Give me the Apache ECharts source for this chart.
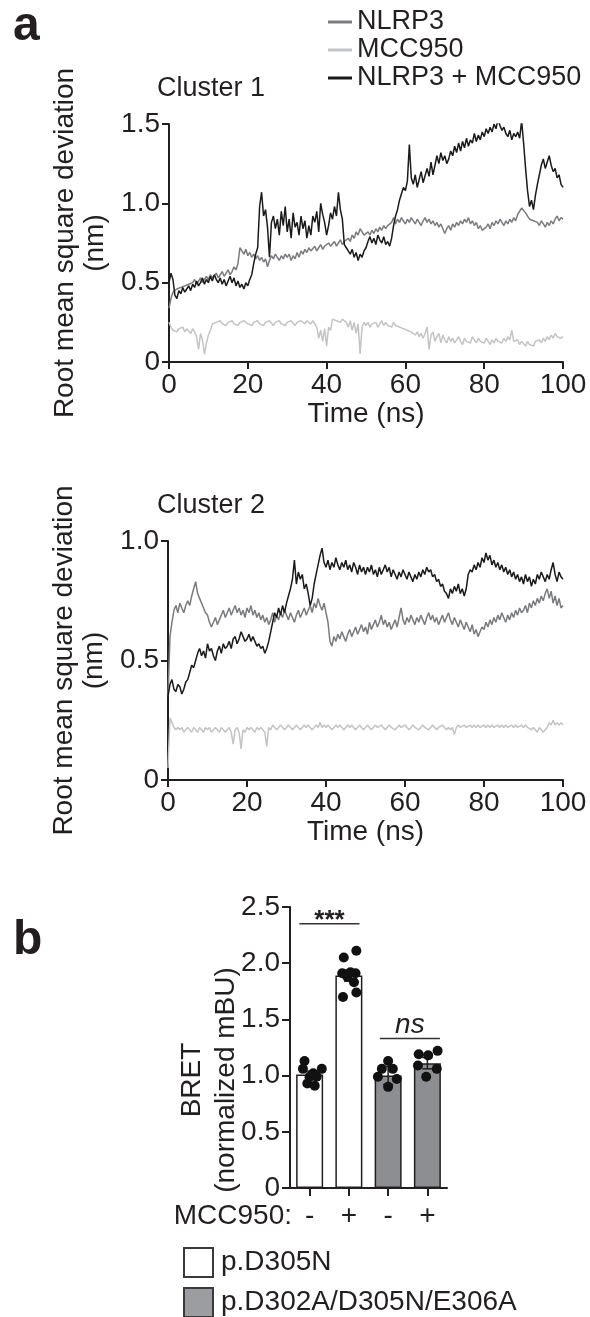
<!DOCTYPE html>
<html><head><meta charset="utf-8">
<script src="https://cdn.jsdelivr.net/npm/echarts@6/dist/echarts.min.js"></script>
<style>html,body{margin:0;padding:0;background:#fff}#c{width:590px;height:1317px}</style>
</head><body><div id="c"></div>
<script>
const FONT = '"Liberation Sans", Arial, Helvetica, sans-serif';
const INK = '#231f20';
const TIME_STEP = 0.5; // ns between samples
const rmsdNames = ['NLRP3', 'MCC950', 'NLRP3 + MCC950'];
const rmsdColors = ['#7a7b7e', '#c3c4c6', '#1a1a1a'];

// Cluster 1 (nm), one sample per 0.5 ns, 0..100 ns
const c1Nlrp3 = [
0.34,0.40,0.44,0.43,0.46,0.45,0.47,0.46,0.48,0.47,
0.49,0.48,0.50,0.52,0.49,0.51,0.53,0.50,0.52,0.54,
0.52,0.55,0.53,0.54,0.56,0.53,0.55,0.57,0.54,0.56,
0.58,0.55,0.57,0.60,0.58,0.62,0.72,0.70,0.68,0.71,
0.67,0.69,0.66,0.68,0.65,0.67,0.64,0.66,0.63,0.65,
0.60,0.64,0.67,0.65,0.68,0.66,0.64,0.67,0.65,0.68,
0.66,0.68,0.64,0.67,0.65,0.69,0.66,0.70,0.68,0.71,
0.69,0.72,0.70,0.71,0.73,0.70,0.72,0.74,0.71,0.73,
0.72,0.75,0.73,0.74,0.76,0.73,0.75,0.77,0.74,0.76,
0.75,0.78,0.76,0.80,0.78,0.82,0.80,0.84,0.82,0.80,
0.79,0.82,0.80,0.83,0.81,0.84,0.82,0.85,0.83,0.86,
0.84,0.86,0.85,0.88,0.91,0.87,0.90,0.88,0.91,0.89,
0.87,0.90,0.88,0.91,0.89,0.87,0.90,0.88,0.86,0.89,
0.91,0.88,0.90,0.87,0.89,0.86,0.88,0.85,0.87,0.84,
0.81,0.84,0.86,0.83,0.87,0.85,0.88,0.86,0.89,0.87,
0.90,0.88,0.91,0.87,0.89,0.86,0.88,0.84,0.86,0.83,
0.82,0.85,0.87,0.84,0.88,0.86,0.89,0.87,0.90,0.88,
0.86,0.89,0.87,0.90,0.88,0.91,0.89,0.93,0.95,0.97,
0.96,0.94,0.92,0.90,0.91,0.89,0.90,0.88,0.86,0.89,
0.87,0.85,0.88,0.86,0.89,0.87,0.90,0.92,0.89,0.91,
0.90];
const c1Mcc950 = [
0.25,0.22,0.20,0.21,0.19,0.21,0.20,0.22,0.19,0.21,
0.20,0.18,0.21,0.19,0.16,0.08,0.18,0.14,0.05,0.12,
0.17,0.20,0.24,0.23,0.25,0.24,0.26,0.24,0.25,0.23,
0.25,0.24,0.26,0.24,0.25,0.23,0.25,0.24,0.26,0.25,
0.24,0.25,0.23,0.25,0.24,0.26,0.24,0.25,0.23,0.25,
0.24,0.26,0.25,0.23,0.25,0.24,0.26,0.24,0.25,0.23,
0.25,0.24,0.26,0.25,0.23,0.25,0.24,0.26,0.25,0.24,
0.26,0.25,0.24,0.26,0.25,0.22,0.15,0.20,0.13,0.21,
0.10,0.22,0.20,0.27,0.28,0.26,0.27,0.25,0.27,0.26,
0.25,0.22,0.26,0.20,0.25,0.18,0.24,0.05,0.22,0.25,
0.23,0.25,0.22,0.24,0.23,0.25,0.22,0.24,0.26,0.23,
0.25,0.23,0.24,0.22,0.25,0.23,0.24,0.22,0.23,0.21,
0.22,0.20,0.21,0.19,0.20,0.17,0.19,0.16,0.18,0.15,
0.18,0.22,0.08,0.17,0.19,0.13,0.16,0.18,0.12,0.17,
0.14,0.12,0.16,0.13,0.15,0.12,0.14,0.16,0.13,0.11,
0.15,0.13,0.14,0.12,0.16,0.14,0.12,0.15,0.13,0.14,
0.12,0.15,0.13,0.11,0.14,0.12,0.15,0.13,0.14,0.12,
0.15,0.13,0.16,0.14,0.20,0.13,0.12,0.14,0.11,0.13,
0.12,0.10,0.13,0.11,0.12,0.10,0.13,0.12,0.14,0.12,
0.15,0.13,0.16,0.14,0.17,0.15,0.18,0.16,0.17,0.15,
0.16];
const c1Both = [
0.50,0.56,0.52,0.42,0.40,0.45,0.43,0.47,0.44,0.46,
0.48,0.45,0.49,0.47,0.51,0.48,0.50,0.53,0.49,0.52,
0.50,0.54,0.51,0.55,0.52,0.50,0.53,0.49,0.52,0.48,
0.51,0.54,0.50,0.53,0.48,0.51,0.47,0.49,0.46,0.50,
0.48,0.52,0.55,0.62,0.68,0.72,0.98,1.07,0.92,0.96,
0.85,0.66,0.88,0.92,0.84,0.90,0.80,0.95,0.86,0.98,
0.82,0.90,0.78,0.94,0.85,0.88,0.80,0.92,0.84,0.89,
0.78,0.86,0.80,0.92,0.88,0.95,0.82,1.00,0.93,0.88,
0.80,0.86,0.94,0.90,0.98,0.92,1.07,0.96,0.90,0.74,
0.72,0.70,0.68,0.71,0.66,0.69,0.64,0.68,0.66,0.70,
0.72,0.76,0.79,0.75,0.78,0.74,0.80,0.77,0.75,0.79,
0.74,0.76,0.73,0.78,0.86,0.92,0.96,1.02,1.06,1.10,
1.08,1.14,1.37,1.16,1.12,1.18,1.10,1.15,1.20,1.13,
1.12,1.22,1.17,1.26,1.18,1.24,1.30,1.25,1.32,1.27,
1.30,1.25,1.28,1.33,1.30,1.36,1.32,1.38,1.33,1.39,
1.35,1.41,1.36,1.40,1.38,1.44,1.39,1.43,1.40,1.45,
1.42,1.47,1.44,1.48,1.45,1.50,1.47,1.53,1.49,1.46,
1.48,1.44,1.42,1.46,1.40,1.44,1.42,1.45,1.41,1.52,
1.38,1.22,1.08,0.98,1.02,0.96,1.05,1.12,1.18,1.24,
1.28,1.22,1.26,1.30,1.24,1.20,1.22,1.16,1.18,1.12,
1.10];

// Cluster 2 (nm), one sample per 0.5 ns, 0..100 ns
const c2Nlrp3 = [
0.35,0.60,0.66,0.71,0.73,0.70,0.74,0.72,0.70,0.73,
0.75,0.73,0.77,0.80,0.83,0.78,0.76,0.74,0.72,0.70,
0.69,0.66,0.64,0.66,0.68,0.65,0.67,0.69,0.71,0.68,
0.70,0.72,0.69,0.71,0.73,0.70,0.72,0.69,0.71,0.68,
0.72,0.70,0.73,0.69,0.71,0.68,0.70,0.67,0.69,0.66,
0.68,0.65,0.67,0.70,0.66,0.69,0.67,0.70,0.68,0.71,
0.69,0.67,0.70,0.68,0.66,0.69,0.71,0.68,0.70,0.72,
0.69,0.71,0.73,0.70,0.74,0.72,0.76,0.73,0.71,0.74,
0.70,0.66,0.58,0.56,0.60,0.58,0.61,0.59,0.62,0.60,
0.58,0.61,0.63,0.60,0.62,0.64,0.61,0.63,0.65,0.62,
0.64,0.61,0.66,0.63,0.65,0.67,0.64,0.66,0.69,0.65,
0.67,0.64,0.66,0.63,0.65,0.67,0.64,0.68,0.72,0.67,
0.65,0.68,0.66,0.69,0.67,0.65,0.68,0.66,0.69,0.67,
0.65,0.68,0.70,0.67,0.69,0.66,0.68,0.65,0.67,0.69,
0.66,0.68,0.70,0.67,0.65,0.68,0.66,0.64,0.67,0.65,
0.63,0.66,0.64,0.62,0.65,0.61,0.63,0.60,0.62,0.64,
0.63,0.66,0.64,0.67,0.65,0.68,0.66,0.69,0.67,0.70,
0.68,0.66,0.69,0.67,0.70,0.68,0.71,0.69,0.72,0.70,
0.71,0.73,0.70,0.74,0.72,0.75,0.73,0.76,0.74,0.77,
0.75,0.78,0.80,0.76,0.79,0.74,0.77,0.73,0.76,0.72,
0.73];
const c2Mcc950 = [
0.05,0.26,0.24,0.22,0.21,0.22,0.21,0.22,0.20,0.21,
0.22,0.21,0.20,0.22,0.21,0.20,0.22,0.21,0.20,0.22,
0.21,0.22,0.20,0.21,0.22,0.21,0.20,0.22,0.21,0.20,
0.21,0.22,0.20,0.15,0.21,0.22,0.20,0.13,0.21,0.20,
0.22,0.21,0.22,0.21,0.20,0.22,0.21,0.22,0.21,0.20,
0.14,0.22,0.21,0.23,0.22,0.21,0.22,0.23,0.22,0.21,
0.22,0.23,0.22,0.21,0.22,0.23,0.22,0.21,0.22,0.23,
0.22,0.23,0.22,0.21,0.22,0.23,0.22,0.24,0.22,0.23,
0.22,0.23,0.22,0.21,0.22,0.23,0.22,0.23,0.22,0.21,
0.22,0.23,0.22,0.23,0.22,0.21,0.22,0.23,0.22,0.21,
0.22,0.23,0.22,0.21,0.22,0.23,0.22,0.22,0.23,0.22,
0.21,0.22,0.23,0.22,0.22,0.21,0.22,0.23,0.22,0.22,
0.23,0.22,0.21,0.22,0.23,0.22,0.22,0.21,0.22,0.23,
0.22,0.22,0.21,0.22,0.23,0.22,0.21,0.22,0.22,0.23,
0.22,0.21,0.22,0.21,0.22,0.19,0.22,0.23,0.22,0.22,
0.23,0.22,0.22,0.23,0.22,0.23,0.22,0.23,0.22,0.22,
0.23,0.22,0.23,0.22,0.23,0.22,0.22,0.23,0.22,0.23,
0.22,0.23,0.22,0.22,0.23,0.22,0.23,0.22,0.22,0.23,
0.22,0.23,0.22,0.22,0.21,0.22,0.21,0.20,0.22,0.21,
0.20,0.21,0.22,0.24,0.23,0.25,0.23,0.24,0.23,0.24,
0.23];
const c2Both = [
0.35,0.40,0.42,0.38,0.37,0.40,0.39,0.36,0.38,0.41,
0.42,0.45,0.48,0.47,0.50,0.53,0.55,0.52,0.54,0.51,
0.57,0.54,0.55,0.52,0.50,0.54,0.56,0.53,0.57,0.55,
0.56,0.58,0.55,0.59,0.60,0.57,0.59,0.62,0.60,0.58,
0.59,0.61,0.58,0.60,0.58,0.56,0.57,0.55,0.56,0.53,
0.55,0.58,0.62,0.66,0.70,0.68,0.72,0.69,0.73,0.70,
0.74,0.77,0.80,0.84,0.92,0.82,0.87,0.84,0.86,0.80,
0.82,0.78,0.73,0.76,0.82,0.86,0.90,0.94,0.97,0.91,
0.89,0.92,0.88,0.91,0.89,0.93,0.90,0.88,0.91,0.89,
0.92,0.88,0.90,0.87,0.91,0.89,0.86,0.90,0.87,0.89,
0.86,0.89,0.87,0.90,0.86,0.88,0.85,0.89,0.86,0.88,
0.90,0.87,0.89,0.85,0.88,0.86,0.84,0.87,0.85,0.88,
0.86,0.84,0.87,0.85,0.83,0.86,0.84,0.87,0.85,0.88,
0.86,0.89,0.87,0.88,0.85,0.86,0.83,0.84,0.81,0.82,
0.79,0.78,0.76,0.80,0.78,0.81,0.79,0.82,0.78,0.80,
0.77,0.80,0.86,0.88,0.87,0.90,0.88,0.91,0.89,0.93,
0.91,0.95,0.92,0.94,0.90,0.92,0.89,0.91,0.88,0.90,
0.87,0.89,0.86,0.88,0.85,0.87,0.84,0.86,0.83,0.85,
0.82,0.86,0.83,0.85,0.81,0.84,0.82,0.86,0.84,0.87,
0.85,0.83,0.86,0.84,0.88,0.91,0.86,0.83,0.87,0.85,
0.84];

// Panel b: BRET
const bretCategories = ['-', '+', '-', '+'];
const bretGroups = ['p.D305N', 'p.D302A/D305N/E306A'];
const bretMeans = [1.01, 1.89, 1.00, 1.11];
const bretSem = [0.03, 0.05, 0.08, 0.05];
const bretDots = [
  [1.13, 1.06, 1.06, 1.02, 0.99, 0.99, 0.93, 0.91],
  [2.05, 2.11, 1.91, 1.91, 1.88, 1.83, 1.70, 1.74, 1.92],
  [1.13, 1.06, 1.06, 0.99, 0.97, 0.90],
  [1.19, 1.18, 1.22, 1.09, 1.06, 0.99]
];
const bretJitter = [
  [-0.13, -0.17, 0.31, 0.09, 0.00, 0.18, -0.06, 0.13],
  [-0.13, 0.19, -0.17, 0.17, -0.04, 0.13, -0.15, 0.19, 0.04],
  [0.00, -0.16, 0.12, -0.26, 0.22, 0.00],
  [-0.22, 0.02, 0.26, -0.24, 0.24, -0.03]
];
const sigLabels = ['***', 'ns'];
const sigLevel = [2.35, 1.33];
const sigFrom = [-0.26, 1.79];
const sigTo = [1.27, 3.32];

const chart = echarts.init(document.getElementById('c'), null, {renderer: 'canvas', width: 590, height: 1317});
const toPairs = arr => arr.map((v, i) => [i * TIME_STEP, v]);
const fmt = v => v === 0 ? '0' : v.toFixed(1);
const txt = {fontFamily: FONT, color: INK};
const axisLine = {show: true, onZero: false, lineStyle: {color: INK, width: 2}};
const axisTick = len => ({show: true, length: len, lineStyle: {color: INK, width: 2}});

function timeAxis(g) {
  return {gridIndex: g, type: 'value', min: 0, max: 100, interval: 20,
    axisLine, axisTick: axisTick(7), splitLine: {show: false},
    axisLabel: Object.assign({fontSize: 28, margin: 9}, txt),
    name: 'Time (ns)', nameLocation: 'middle', nameGap: 36,
    nameTextStyle: Object.assign({fontSize: 28}, txt)};
}
function rmsdAxis(g, max, gap) {
  return {gridIndex: g, type: 'value', min: 0, max: max, interval: 0.5,
    axisLine, axisTick: axisTick(7), splitLine: {show: false},
    axisLabel: Object.assign({fontSize: 28, margin: 9, formatter: fmt}, txt),
    name: 'Root mean square deviation\n(nm)', nameLocation: 'middle', nameRotate: 90, nameGap: gap,
    nameTextStyle: Object.assign({fontSize: 28, lineHeight: 30}, txt)};
}
function lineSeries(name, data, color, g, z) {
  return {type: 'line', name, xAxisIndex: g, yAxisIndex: g, data: toPairs(data),
    showSymbol: false, symbol: 'none', z, silent: true,
    lineStyle: {color, width: 1.5}, itemStyle: {color}};
}
function groupLegend(i, top, fill) {
  return {data: [{name: bretGroups[i], itemStyle: {color: fill, borderColor: '#3a3a3a', borderWidth: 2}}],
    orient: 'horizontal', left: 183, top: top, padding: 0,
    itemWidth: 29, itemHeight: 29, icon: 'rect', selectedMode: false,
    textStyle: Object.assign({fontSize: 28, padding: [0, 0, 0, 3]}, txt)};
}

const dotData = [];
bretDots.forEach((vals, i) => vals.forEach((v, j) => dotData.push([i + bretJitter[i][j], v])));
const errData = bretMeans.map((m, i) => [i, m, bretSem[i]]);
const sigData = sigLabels.map((l, i) => [sigFrom[i], sigTo[i], sigLevel[i], i]);

const option = {
  animation: false,
  backgroundColor: '#fff',
  grid: [
    {left: 169, top: 124, width: 394, height: 238},
    {left: 168, top: 541, width: 395, height: 239},
    {left: 290, top: 907, width: 157, height: 281}
  ],
  legend: [
    {data: rmsdNames, orient: 'vertical', left: 328, top: 8, padding: 0,
     itemWidth: 24, itemHeight: 3, itemGap: 0, icon: 'rect', selectedMode: false,
     textStyle: Object.assign({fontSize: 27, lineHeight: 28}, txt)},
    groupLegend(0, 1247, '#ffffff'),
    groupLegend(1, 1287, '#9c9da1')
  ],
  xAxis: [
    timeAxis(0), timeAxis(1),
    {gridIndex: 2, type: 'category', data: bretCategories,
     axisLine, axisTick: Object.assign(axisTick(8), {alignWithLabel: true}),
     axisLabel: Object.assign({fontSize: 28, margin: 14}, txt)},
    {gridIndex: 2, type: 'value', min: -0.5, max: 3.5, show: false}
  ],
  yAxis: [
    rmsdAxis(0, 1.5, 55), rmsdAxis(1, 1.0, 53),
    {gridIndex: 2, type: 'value', min: 0, max: 2.5, interval: 0.5,
     axisLine, axisTick: axisTick(8), splitLine: {show: false},
     axisLabel: Object.assign({fontSize: 28, margin: 10, formatter: fmt}, txt)}
  ],
  series: [
    lineSeries(rmsdNames[1], c1Mcc950, rmsdColors[1], 0, 1),
    lineSeries(rmsdNames[0], c1Nlrp3, rmsdColors[0], 0, 2),
    lineSeries(rmsdNames[2], c1Both, rmsdColors[2], 0, 3),
    lineSeries(rmsdNames[1], c2Mcc950, rmsdColors[1], 1, 1),
    lineSeries(rmsdNames[0], c2Nlrp3, rmsdColors[0], 1, 2),
    lineSeries(rmsdNames[2], c2Both, rmsdColors[2], 1, 3),
    {type: 'bar', name: bretGroups[0], xAxisIndex: 2, yAxisIndex: 2, barWidth: 27, barGap: '-100%',
     data: [bretMeans[0], bretMeans[1], '-', '-'],
     itemStyle: {color: '#ffffff', borderColor: INK, borderWidth: 1.5}},
    {type: 'bar', name: bretGroups[1], xAxisIndex: 2, yAxisIndex: 2, barWidth: 27, barGap: '-100%',
     data: ['-', '-', bretMeans[2], bretMeans[3]],
     itemStyle: {color: '#8d8e92', borderColor: INK, borderWidth: 1.5}},
    {type: 'custom', xAxisIndex: 3, yAxisIndex: 2, data: errData, z: 5, silent: true,
     renderItem(params, api) {
       const x = api.value(0), m = api.value(1), s = api.value(2);
       const t = api.coord([x, m + s]), b = api.coord([x, m - s]);
       const st = {stroke: INK, lineWidth: 1.5};
       return {type: 'group', children: [
         {type: 'line', shape: {x1: t[0], y1: t[1], x2: b[0], y2: b[1]}, style: st},
         {type: 'line', shape: {x1: t[0] - 5, y1: t[1], x2: t[0] + 5, y2: t[1]}, style: st},
         {type: 'line', shape: {x1: b[0] - 5, y1: b[1], x2: b[0] + 5, y2: b[1]}, style: st}
       ]};
     }},
    {type: 'scatter', xAxisIndex: 3, yAxisIndex: 2, data: dotData, symbolSize: 10, z: 6,
     itemStyle: {color: '#111', opacity: 1}, silent: true},
    {type: 'custom', xAxisIndex: 3, yAxisIndex: 2, data: sigData, z: 6, silent: true,
     renderItem(params, api) {
       const a = api.coord([api.value(0), api.value(2)]);
       const b = api.coord([api.value(1), api.value(2)]);
       const idx = api.value(3);
       const isNs = sigLabels[idx] === 'ns';
       return {type: 'group', children: [
         {type: 'line', shape: {x1: a[0], y1: a[1], x2: b[0], y2: b[1]}, style: {stroke: '#333', lineWidth: 1.5}},
         {type: 'text', x: (a[0] + b[0]) / 2, y: a[1] - (isNs ? 13 : 3),
          style: {text: sigLabels[idx], fill: INK, align: 'center', verticalAlign: 'middle',
                  font: isNs ? 'italic 28px ' + FONT : 'bold 26px ' + FONT}}
       ]};
     }}
  ],
  graphic: [
    {type: 'text', left: 13, top: 3, style: {text: 'a', font: 'bold 48px ' + FONT, fill: INK}},
    {type: 'text', left: 13, top: 917, style: {text: 'b', font: 'bold 48px ' + FONT, fill: INK}},
    {type: 'text', x: 157, y: 89, style: {text: 'Cluster 1', font: '27px ' + FONT, fill: INK, verticalAlign: 'middle'}},
    {type: 'text', x: 157, y: 506, style: {text: 'Cluster 2', font: '27px ' + FONT, fill: INK, verticalAlign: 'middle'}},
    {type: 'text', x: 292, y: 1216, style: {text: 'MCC950:', font: '28px ' + FONT, fill: INK, align: 'right', verticalAlign: 'middle'}},
    {type: 'text', x: 209, y: 1080, rotation: Math.PI / 2,
     style: {text: 'BRET\n(normalized mBU)', font: '28px ' + FONT, lineHeight: 34, fill: INK, align: 'center', verticalAlign: 'middle'}}
  ]
};
chart.setOption(option);
</script>
</body></html>
